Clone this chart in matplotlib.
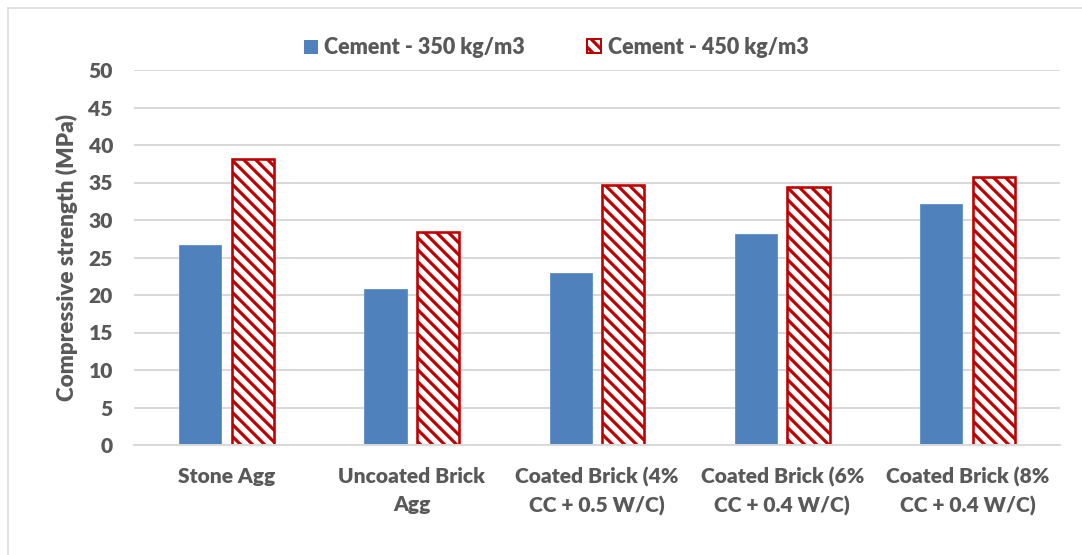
import matplotlib
matplotlib.use("Agg")
import matplotlib.pyplot as plt
from matplotlib.lines import Line2D
from matplotlib.patches import Rectangle
import numpy as np

categories = [
    "Stone Agg",
    "Uncoated Brick\nAgg",
    "Coated Brick (4%\nCC + 0.5 W/C)",
    "Coated Brick (6%\nCC + 0.4 W/C)",
    "Coated Brick (8%\nCC + 0.4 W/C)",
]
series_names = ["Cement - 350 kg/m3", "Cement - 450 kg/m3"]
cement_350 = [26.7, 20.8, 23.0, 28.2, 32.1]
cement_450 = [38.2, 28.4, 34.7, 34.4, 35.8]
y_ticks = [0, 5, 10, 15, 20, 25, 30, 35, 40, 45, 50]

BLUE = "#4F81BD"
RED = "#C00000"
TEXT = "#595959"
GRID = "#D9D9D9"
WEIGHT = 800

# at 72 dpi one point is one pixel
DPI = 72
plt.rcParams["font.family"] = ["Lato", "DejaVu Sans"]
plt.rcParams["font.weight"] = WEIGHT
plt.rcParams["hatch.linewidth"] = 3.2
plt.rcParams["hatch.color"] = RED

W, H = 1082, 555
fig = plt.figure(figsize=(W / DPI, H / DPI), dpi=DPI)
ax = fig.add_axes([134 / W, 1 - 445 / H, (1060 - 134) / W, (445 - 70) / H])

x = np.arange(len(categories))
bw = 0.227
off = 0.142
ax.bar(x - off, cement_350, width=bw, color=BLUE, edgecolor="#6A95CB",
       linewidth=1.0, zorder=3)
ax.bar(x + off, cement_450, width=bw, facecolor="white", edgecolor=RED,
       hatch="\\\\", linewidth=2.6, zorder=3)

ax.set_xlim(-0.5, len(categories) - 0.5)
ax.set_ylim(0, 50)
ax.set_yticks(y_ticks)
ax.yaxis.grid(True, color=GRID, linewidth=2.0, zorder=0)
ax.set_axisbelow(True)
for s in ["top", "right", "left"]:
    ax.spines[s].set_visible(False)
ax.spines["bottom"].set_color(GRID)
ax.spines["bottom"].set_linewidth(2.0)
ax.spines["bottom"].set_zorder(4)

ax.set_xticks(x)
ax.set_xticklabels(categories, fontsize=21, color=TEXT, fontweight=WEIGHT,
                   linespacing=1.55)
ax.tick_params(axis="x", length=0, pad=22)
ax.tick_params(axis="y", length=0, pad=21, labelsize=21, labelcolor=TEXT)
for t in ax.get_yticklabels():
    t.set_fontweight(WEIGHT)

ax.set_ylabel("Compressive strength (MPa)", fontsize=22.5, color=TEXT,
              fontweight=WEIGHT, labelpad=10)

handles = [
    Line2D([], [], marker="s", linestyle="none", markersize=13,
           markerfacecolor=BLUE, markeredgecolor=BLUE),
    Rectangle((0, 0), 1, 1, facecolor="white", edgecolor=RED,
              hatch="\\\\", linewidth=2.0),
]
leg = fig.legend(handles, series_names, loc="center",
                 bbox_to_anchor=(556 / W, 1 - 47 / H), ncol=2, frameon=False,
                 fontsize=21.5, handlelength=0.62, handleheight=0.62,
                 handletextpad=0.35, columnspacing=2.9)
for t in leg.get_texts():
    t.set_color(TEXT)
    t.set_fontweight(WEIGHT)

# light frame along the top and left edges
fig.add_artist(Line2D([8 / W, 8 / W], [0, 1 - 8 / H], transform=fig.transFigure,
                      color=GRID, linewidth=1.5))
fig.add_artist(Line2D([8 / W, 1], [1 - 8 / H, 1 - 8 / H], transform=fig.transFigure,
                      color=GRID, linewidth=1.5))

fig.savefig("out.png", dpi=DPI, facecolor="white")
